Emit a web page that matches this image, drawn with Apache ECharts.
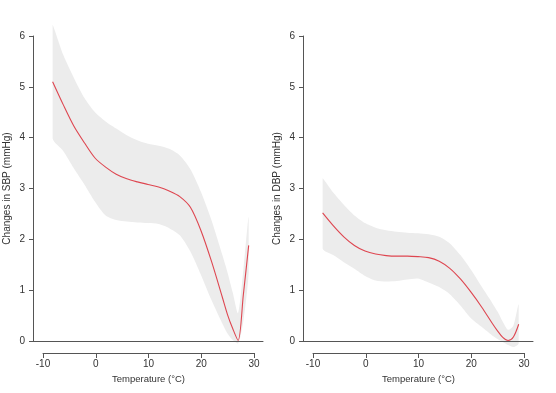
<!DOCTYPE html>
<html>
<head>
<meta charset="utf-8">
<script src="https://cdn.jsdelivr.net/npm/echarts@6/dist/echarts.min.js"></script>
<style>
html,body{margin:0;padding:0;background:#fff;}
#chart{width:556px;height:393px;}
</style>
</head>
<body>
<div id="chart"></div>
<script>
// Temperature (°C) sample points
var temperature = [-8,-6,-4,-2,0,2,4,6,8,10,12,14,16,18,20,22,24,25,26,27,28,29];

// SBP change (mmHg): estimate and 95% CI
var sbpEst   = [5.10,4.65,4.23,3.90,3.60,3.42,3.28,3.19,3.13,3.08,3.03,2.95,2.84,2.63,2.17,1.56,0.87,0.52,0.24,0.01,0.92,1.88];
var sbpLower = [3.99,3.74,3.40,3.08,2.74,2.47,2.38,2.35,2.33,2.32,2.30,2.22,2.08,1.76,1.30,0.80,0.35,0.15,0.02,-0.05,0.40,1.35];
var sbpUpper = [6.22,5.63,5.18,4.78,4.50,4.32,4.18,4.05,3.95,3.88,3.84,3.78,3.65,3.38,2.93,2.37,1.70,1.35,0.95,0.55,1.40,2.45];

// DBP change (mmHg): estimate and 95% CI
var dbpEst   = [2.52,2.27,2.05,1.88,1.77,1.71,1.68,1.67,1.67,1.66,1.64,1.57,1.43,1.22,0.96,0.67,0.35,0.20,0.07,0.01,0.08,0.33];
var dbpLower = [1.82,1.69,1.55,1.42,1.28,1.19,1.17,1.18,1.21,1.23,1.15,1.06,0.92,0.70,0.45,0.28,0.11,0.04,-0.02,-0.08,-0.12,-0.05];
var dbpUpper = [3.20,2.92,2.68,2.47,2.32,2.23,2.18,2.15,2.13,2.12,2.10,2.05,1.92,1.69,1.40,1.07,0.75,0.58,0.38,0.22,0.30,0.72];

var yNames = ['Changes in SBP (mmHg)', 'Changes in DBP (mmHg)'];
var xName = 'Temperature (\u00b0C)';

function pairs(xs, ys) { return xs.map(function (x, i) { return [x, ys[i]]; }); }

var FONT = 'Liberation Sans, Arial, sans-serif';
var AXC = '#555';
var TXT = '#333';
var RED = '#de4650';
var BAND = '#ececec';

var grids = [], xAxes = [], yAxes = [], series = [];
var panels = [
  {est: sbpEst, lo: sbpLower, hi: sbpUpper, off: 0, name: yNames[0]},
  {est: dbpEst, lo: dbpLower, hi: dbpUpper, off: 270, name: yNames[1]}
];

function bandRenderer(lo, hi) {
  return function (params, api) {
    if (params.dataIndex !== 0) return null;
    var pts = [];
    for (var i = 0; i < temperature.length; i++) pts.push(api.coord([temperature[i], hi[i]]));
    for (var j = temperature.length - 1; j >= 0; j--) pts.push(api.coord([temperature[j], lo[j]]));
    var minX = Infinity, minY = Infinity, maxX = -Infinity, maxY = -Infinity;
    pts.forEach(function (q) {
      minX = Math.min(minX, q[0]); maxX = Math.max(maxX, q[0]);
      minY = Math.min(minY, q[1]); maxY = Math.max(maxY, q[1]);
    });
    return {
      type: 'polygon',
      shape: {points: pts, smooth: 0.25, smoothConstraint: [[minX, minY], [maxX, maxY]]},
      style: {fill: BAND, stroke: null}
    };
  };
}

panels.forEach(function (p, k) {
  var gMain = grids.length;
  grids.push({left: 33 + p.off, top: 36, width: 230, height: 305});
  var gX = grids.length;
  grids.push({left: 43 + p.off, top: 352, width: 211, height: 1});

  // main plot x axis: the zero reference line only
  xAxes.push({
    gridIndex: gMain, type: 'value', min: -11.7, max: 31.7,
    axisLine: {show: true, onZero: false, lineStyle: {color: AXC, width: 1}},
    axisTick: {show: false}, axisLabel: {show: false}, splitLine: {show: false}
  });
  yAxes.push({
    gridIndex: gMain, type: 'value', min: 0, max: 6, interval: 1,
    name: p.name, nameLocation: 'middle', nameGap: 21,
    nameTextStyle: {fontFamily: FONT, fontSize: 10, color: TXT},
    axisLine: {show: true, onZero: false, lineStyle: {color: AXC, width: 1}},
    axisTick: {show: true, length: 4, lineStyle: {color: AXC}},
    axisLabel: {fontFamily: FONT, fontSize: 10, color: TXT, margin: 8},
    splitLine: {show: false}
  });
  // detached temperature axis
  xAxes.push({
    gridIndex: gX, type: 'value', min: -10, max: 30, interval: 10,
    name: xName, nameLocation: 'middle', nameGap: 21,
    nameTextStyle: {fontFamily: FONT, fontSize: 9.5, color: TXT},
    axisLine: {show: true, onZero: false, lineStyle: {color: AXC, width: 1}},
    axisTick: {show: true, length: 5, lineStyle: {color: AXC}},
    axisLabel: {fontFamily: FONT, fontSize: 10, color: TXT, margin: 6},
    splitLine: {show: false}
  });
  yAxes.push({gridIndex: gX, type: 'value', show: false, min: 0, max: 1});

  var xi = k * 2, yi = k * 2;
  series.push({
    type: 'custom', xAxisIndex: xi, yAxisIndex: yi,
    data: pairs(temperature, p.hi), renderItem: bandRenderer(p.lo, p.hi),
    clip: false, z: -1, silent: true
  });
  series.push({
    type: 'line', xAxisIndex: xi, yAxisIndex: yi,
    data: pairs(temperature, p.est), symbol: 'none', smooth: 0.3, clip: false,
    lineStyle: {color: RED, width: 1.1}, z: 3, silent: true
  });
});

var chart = echarts.init(document.getElementById('chart'), null, {renderer: 'canvas'});
chart.setOption({
  animation: false,
  backgroundColor: '#fff',
  grid: grids, xAxis: xAxes, yAxis: yAxes, series: series
});
</script>
</body>
</html>
